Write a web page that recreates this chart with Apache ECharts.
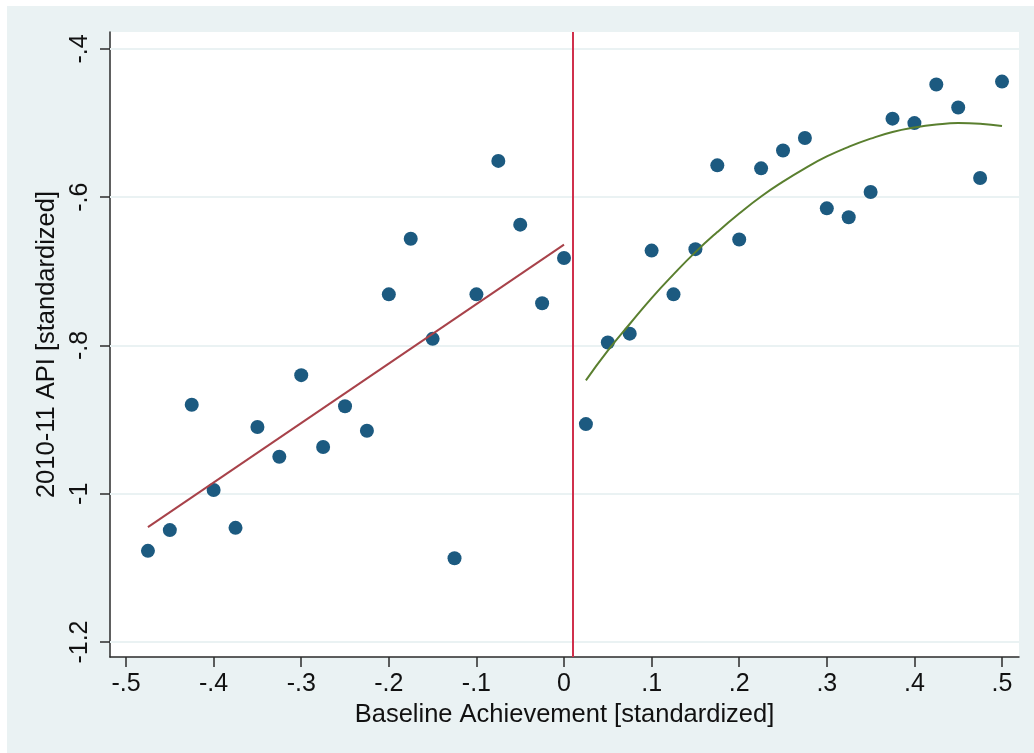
<!DOCTYPE html>
<html>
<head>
<meta charset="utf-8">
<title>RD plot</title>
<script src="https://cdn.jsdelivr.net/npm/echarts@6/dist/echarts.min.js"></script>
<style>
  html, body { margin: 0; padding: 0; background: #fff; }
  #chart { position: absolute; left: 7px; top: 6px; width: 1027px; height: 747px; }
</style>
</head>
<body>
<div id="chart"></div>
<script>
// bin means, left of the cutoff
const leftX = [-0.475, -0.45, -0.425, -0.4, -0.375, -0.35, -0.325, -0.3, -0.275, -0.25,
               -0.225, -0.2, -0.175, -0.15, -0.125, -0.1, -0.075, -0.05, -0.025, 0];
const leftY = [-1.077, -1.049, -0.880, -0.995, -1.046, -0.910, -0.950, -0.840, -0.937, -0.882,
               -0.915, -0.731, -0.656, -0.791, -1.087, -0.731, -0.551, -0.637, -0.743, -0.682];
// bin means, right of the cutoff
const rightX = [0.025, 0.05, 0.075, 0.1, 0.125, 0.15, 0.175, 0.2, 0.225, 0.25,
                0.275, 0.3, 0.325, 0.35, 0.375, 0.4, 0.425, 0.45, 0.475, 0.5];
const rightY = [-0.906, -0.796, -0.784, -0.672, -0.731, -0.670, -0.557, -0.657, -0.561, -0.537,
                -0.520, -0.615, -0.627, -0.593, -0.494, -0.500, -0.448, -0.479, -0.574, -0.444];
// linear fit (left) and quadratic fit (right)
const linFitX = [-0.475, 0];
const linFitY = [-1.045, -0.664];
const quadFitX = [0.025, 0.05, 0.075, 0.1, 0.125, 0.15, 0.175, 0.2, 0.225, 0.25,
                  0.275, 0.3, 0.325, 0.35, 0.375, 0.4, 0.425, 0.45, 0.475, 0.5];
const quadFitY = [-0.847, -0.807, -0.771, -0.736, -0.704, -0.674, -0.647, -0.622, -0.599, -0.579,
                  -0.561, -0.545, -0.532, -0.521, -0.512, -0.506, -0.502, -0.500, -0.501, -0.504];
const cutoff = 0.013;
const xTicks = [-0.5, -0.4, -0.3, -0.2, -0.1, 0, 0.1, 0.2, 0.3, 0.4, 0.5];
const yTicks = [-1.2, -1, -0.8, -0.6, -0.4];

const pairs = (xs, ys) => xs.map((x, i) => [x, ys[i]]);

// stata style numbers: -.5, .1, 0, -1.2
function stataNum(v) {
  if (Math.abs(v) < 1e-9) return '0';
  let s = String(+v.toFixed(2));
  return s.replace(/^(-?)0\./, '$1.');
}

const font = "'Liberation Sans', Arial, Helvetica, sans-serif";
const axisColor = '#2b2b2b';
const bg = '#eaf2f3';

let chart = echarts.init(document.getElementById('chart'));
let option = {
  animation: false,
  backgroundColor: bg,
  textStyle: { fontFamily: font },
  grid: {
    left: 103, top: 26, right: 15, bottom: 96,
    show: true, backgroundColor: '#fff', borderWidth: 0
  },
  xAxis: {
    type: 'value',
    min: -0.5183, max: 0.5194,
    name: 'Baseline Achievement [standardized]',
    nameLocation: 'middle',
    nameGap: 44,
    nameTextStyle: { color: '#111', fontSize: 25.5, fontFamily: font },
    axisLine: { onZero: false, lineStyle: { color: axisColor, width: 1.5 } },
    axisTick: { customValues: xTicks, length: 10, lineStyle: { color: axisColor, width: 1.5 } },
    axisLabel: {
      customValues: xTicks, margin: 15,
      color: '#111', fontSize: 25, fontFamily: font,
      formatter: stataNum
    },
    splitLine: { show: false }
  },
  yAxis: {
    type: 'value',
    min: -1.2202, max: -0.3771,
    name: '2010-11 API [standardized]',
    nameLocation: 'middle',
    nameRotate: 90,
    nameGap: 44,
    nameTextStyle: { color: '#111', fontSize: 25.5, fontFamily: font },
    axisLine: { onZero: false, lineStyle: { color: axisColor, width: 1.5 } },
    axisTick: { customValues: yTicks, length: 10, lineStyle: { color: axisColor, width: 1.5 } },
    axisLabel: {
      customValues: yTicks, margin: 17, rotate: 90,
      color: '#111', fontSize: 25, fontFamily: font,
      formatter: stataNum
    },
    splitLine: { show: false }
  },
  series: [
    {
      // grid lines + cutoff line, kept under the marks
      type: 'line',
      z: 1,
      data: [],
      silent: true,
      markLine: {
        z: 1,
        silent: true,
        symbol: ['none', 'none'],
        label: { show: false },
        data: yTicks.map(v => ({ yAxis: v, lineStyle: { color: bg, width: 2, type: 'solid' } }))
          .concat([{ xAxis: cutoff, lineStyle: { color: '#d0304c', width: 2, type: 'solid' } }])
      }
    },
    {
      type: 'scatter',
      z: 3,
      symbolSize: 14,
      itemStyle: { color: '#1c5a80', opacity: 1 },
      data: pairs(leftX, leftY).concat(pairs(rightX, rightY))
    },
    {
      type: 'line',
      z: 4,
      showSymbol: false,
      lineStyle: { color: '#a8424a', width: 2 },
      data: pairs(linFitX, linFitY)
    },
    {
      type: 'line',
      z: 4,
      showSymbol: false,
      smooth: true,
      lineStyle: { color: '#5a7f2f', width: 2 },
      data: pairs(quadFitX, quadFitY)
    }
  ]
};
chart.setOption(option);
</script>
</body>
</html>
